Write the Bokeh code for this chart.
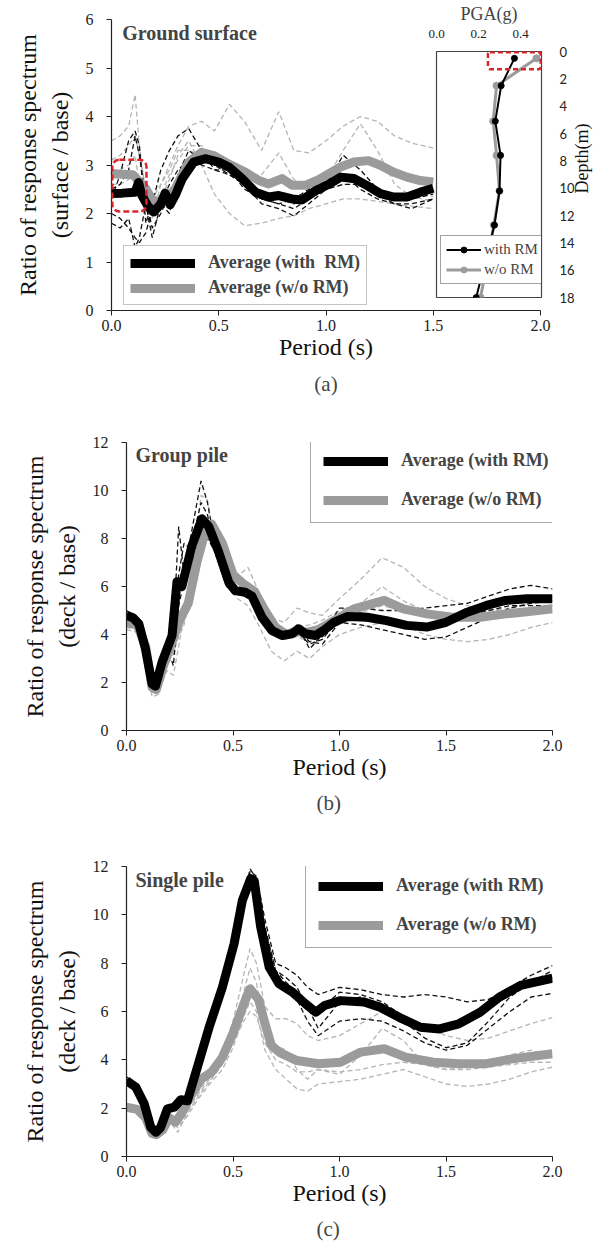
import math
from bokeh.plotting import figure
from bokeh.layouts import column, row
from bokeh.models import (Range1d, Legend, LegendItem, BoxAnnotation, Title,
                          FixedTicker, Label, NumeralTickFormatter)
from bokeh.embed import file_html
from bokeh.resources import INLINE

SERIF = "Liberation Serif"

# ---------------- Panel (a): ground surface ----------------
a_x_rm = [0, 0.05, 0.11, 0.126, 0.142, 0.17, 0.197, 0.23, 0.25, 0.273, 0.3, 0.33, 0.383, 0.437, 0.5,
          0.547, 0.609, 0.671, 0.733, 0.78, 0.842, 0.889, 0.951, 1.02, 1.068, 1.13, 1.19, 1.254,
          1.316, 1.378, 1.44, 1.5]
a_y_rm = [2.41, 2.42, 2.44, 2.64, 2.37, 2.15, 2.03, 2.2, 2.42, 2.18, 2.4, 2.72, 3.06, 3.13, 3.06,
          2.96, 2.72, 2.44, 2.34, 2.37, 2.30, 2.28, 2.47, 2.62, 2.75, 2.72, 2.58, 2.41,
          2.34, 2.34, 2.44, 2.52]
a_x_no = [0, 0.1, 0.16, 0.197, 0.25, 0.297, 0.36, 0.42, 0.48, 0.547, 0.625, 0.687, 0.733, 0.795,
          0.842, 0.904, 0.966, 1.068, 1.13, 1.198, 1.25, 1.316, 1.378, 1.44, 1.5]
a_y_no = [2.82, 2.80, 2.51, 2.23, 2.28, 2.51, 3.06, 3.26, 3.19, 3.02, 2.85, 2.68, 2.61, 2.72,
          2.58, 2.58, 2.70, 2.96, 3.06, 3.09, 3.0, 2.85, 2.75, 2.68, 2.65]
a_x_case = [0, 0.04, 0.08, 0.11, 0.13, 0.16, 0.19, 0.23, 0.27, 0.31, 0.36, 0.42, 0.48, 0.55, 0.62,
            0.7, 0.78, 0.85, 0.92, 1.0, 1.08, 1.16, 1.24, 1.32, 1.4, 1.5]
a_rm_case1 = [2.3, 2.8, 3.5, 3.7, 3.4, 1.8, 2.2, 2.9, 3.3, 3.6, 3.75, 3.3, 2.9, 2.9, 2.5, 2.3, 2.2, 2.1, 2.3, 2.6, 3.2, 2.9, 2.5, 2.3, 2.3, 2.4]
a_rm_case2 = [2.0, 1.9, 1.7, 1.5, 1.4, 1.6, 2.1, 2.2, 2.0, 2.8, 3.3, 3.1, 3.0, 3.0, 2.7, 2.4, 2.3, 2.2, 2.3, 2.5, 2.6, 2.6, 2.4, 2.2, 2.2, 2.3]
a_rm_case3 = [2.5, 2.6, 2.9, 3.6, 3.2, 2.3, 1.7, 2.0, 2.4, 2.5, 3.0, 3.2, 3.0, 2.8, 2.6, 2.3, 2.2, 2.3, 2.5, 2.7, 2.8, 2.5, 2.3, 2.2, 2.1, 2.3]
a_rm_case4 = [1.8, 1.7, 1.9, 1.3, 1.5, 2.2, 1.5, 2.2, 2.6, 2.9, 3.1, 3.0, 2.9, 2.8, 2.6, 2.2, 2.1, 1.95, 2.2, 2.5, 2.7, 2.6, 2.4, 2.3, 2.35, 2.5]
a_no_case1 = [3.5, 3.6, 3.8, 4.45, 3.4, 2.4, 2.3, 2.6, 3.0, 3.4, 3.8, 3.9, 3.7, 4.25, 3.9, 3.3, 4.1, 3.3, 3.25, 3.5, 3.8, 4.0, 3.9, 3.6, 3.45, 3.35]
a_no_case2 = [3.1, 3.2, 3.4, 3.6, 3.2, 2.5, 2.3, 2.4, 2.8, 3.1, 3.4, 3.4, 3.0, 3.1, 2.8, 2.8, 3.25, 2.7, 2.55, 2.7, 3.3, 3.85, 3.3, 2.6, 2.35, 2.25]
a_no_case3 = [2.9, 2.9, 3.0, 3.2, 2.6, 2.1, 2.0, 2.3, 2.7, 3.2, 3.5, 3.0, 2.4, 2.0, 1.75, 1.8, 1.9, 1.95, 2.1, 2.2, 2.3, 2.3, 2.25, 2.2, 2.15, 2.1]
a_no_case4 = [2.6, 2.6, 2.7, 2.8, 2.5, 2.2, 1.9, 2.6, 2.9, 3.3, 3.3, 3.2, 3.0, 2.9, 2.6, 2.4, 2.4, 2.35, 2.4, 2.5, 2.6, 2.6, 2.5, 2.4, 2.4, 2.35]

# Inset: PGA profile
inset_depth = [0.5, 2.5, 5.1, 7.6, 10.2, 12.7, 18.0]
inset_pga_rm = [0.371, 0.308, 0.28, 0.305, 0.30, 0.276, 0.189]
inset_pga_no = [0.476, 0.286, 0.27, 0.286, 0.30, 0.273, 0.21]

# ---------------- Panel (b): group pile ----------------
b_x_rm = [0, 0.03, 0.058, 0.089, 0.12, 0.136, 0.167, 0.214, 0.237, 0.26, 0.307, 0.354, 0.386, 0.433,
          0.48, 0.51, 0.557, 0.589, 0.636, 0.683, 0.73, 0.777, 0.808, 0.84, 0.887, 0.93, 0.974,
          1.036, 1.13, 1.22, 1.315, 1.41, 1.5, 1.6, 1.69, 1.78, 1.88, 2.0]
b_y_rm = [4.8, 4.7, 4.44, 3.4, 1.94, 1.85, 2.85, 3.96, 6.2, 6.0, 7.7, 8.82, 8.5, 7.43, 6.18, 5.83,
          5.76, 5.6, 4.72, 4.17, 3.96, 4.03, 4.24, 4.03, 3.96, 4.2, 4.51, 4.75, 4.72, 4.58, 4.38,
          4.31, 4.51, 4.93, 5.21, 5.42, 5.49, 5.49]
b_x_no = [0, 0.05, 0.09, 0.12, 0.14, 0.17, 0.21, 0.25, 0.29, 0.33, 0.37, 0.4, 0.45, 0.5, 0.55, 0.6,
          0.65, 0.7, 0.75, 0.8, 0.85, 0.9, 0.974, 1.068, 1.21, 1.3, 1.41, 1.53, 1.66, 1.78, 1.88, 2.0]
b_y_no = [4.5, 4.4, 3.5, 1.8, 1.7, 2.6, 3.6, 4.6, 5.3, 7.0, 8.3, 8.6, 7.8, 6.5, 6.1, 5.8, 5.0,
          4.3, 4.0, 4.1, 4.1, 4.2, 4.58, 5.07, 5.42, 5.07, 4.86, 4.72, 4.72, 4.86, 4.95, 5.07]
b_x_case = [0, 0.05, 0.09, 0.12, 0.15, 0.19, 0.22, 0.245, 0.27, 0.31, 0.35, 0.38, 0.42, 0.47, 0.52,
            0.57, 0.62, 0.68, 0.74, 0.8, 0.86, 0.92, 1.0, 1.1, 1.2, 1.3, 1.4, 1.5, 1.6, 1.7, 1.8, 1.9, 2.0]
b_rm_case1 = [5.0, 4.7, 3.5, 2.0, 2.0, 3.3, 4.2, 8.5, 6.5, 8.5, 10.4, 9.5, 7.5, 6.2, 5.8, 5.7, 5.2, 4.3, 3.8, 4.4, 3.4, 4.0, 5.1, 5.1, 5.0, 5.0, 5.1, 5.2, 5.3, 5.6, 5.9, 6.05, 5.9]
b_rm_case2 = [4.8, 4.6, 3.3, 1.7, 2.2, 3.5, 2.7, 5.2, 6.2, 8.0, 9.5, 9.0, 7.3, 6.0, 5.8, 5.6, 5.0, 4.1, 3.9, 4.2, 3.7, 3.6, 4.5, 4.4, 4.2, 4.0, 3.8, 3.9, 4.3, 4.7, 5.1, 5.3, 5.4]
b_rm_case3 = [4.7, 4.5, 3.4, 1.8, 2.0, 3.2, 4.0, 6.5, 7.8, 7.5, 7.8, 8.0, 7.4, 6.1, 5.7, 5.6, 4.9, 4.0, 4.0, 4.3, 4.0, 3.9, 4.8, 4.9, 4.7, 4.5, 4.4, 4.6, 4.9, 5.3, 5.5, 5.6, 5.5]
b_rm_case4 = [4.9, 4.6, 3.4, 1.9, 2.1, 3.4, 4.1, 6.0, 6.8, 7.2, 8.8, 8.7, 7.6, 6.2, 5.9, 5.7, 5.1, 4.2, 3.9, 4.1, 3.6, 3.8, 4.7, 4.6, 4.5, 4.4, 4.3, 4.5, 4.8, 5.0, 5.2, 5.2, 5.2]
b_no_case1 = [4.3, 4.2, 3.3, 1.5, 1.6, 2.5, 2.3, 3.5, 4.8, 6.5, 8.0, 8.5, 7.8, 6.6, 6.4, 6.8, 5.8, 4.7, 4.5, 5.1, 4.9, 4.8, 5.5, 6.3, 7.2, 6.8, 6.0, 5.5, 5.2, 5.0, 5.1, 5.3, 5.6]
b_no_case2 = [4.2, 4.1, 3.2, 1.4, 1.5, 2.8, 3.3, 4.0, 4.6, 6.8, 9.8, 9.6, 7.6, 6.3, 5.9, 5.8, 5.3, 4.5, 4.2, 4.3, 4.4, 4.6, 5.0, 5.3, 6.0, 5.4, 5.0, 4.8, 4.7, 4.8, 4.9, 5.0, 5.2]
b_no_case3 = [4.4, 4.3, 3.4, 1.6, 1.8, 2.7, 3.2, 3.9, 4.4, 6.0, 7.6, 8.2, 7.4, 6.0, 5.5, 5.2, 4.4, 3.3, 2.9, 3.3, 3.0, 3.5, 4.0, 4.3, 4.5, 4.4, 4.0, 3.8, 3.7, 3.8, 4.0, 4.3, 4.5]
b_no_case4 = [4.5, 4.4, 3.5, 1.7, 1.7, 2.9, 3.5, 4.3, 5.0, 6.7, 8.5, 8.7, 7.7, 6.4, 6.0, 5.9, 5.1, 4.2, 3.8, 3.9, 3.7, 4.0, 4.6, 4.9, 5.2, 5.0, 4.8, 4.8, 4.9, 5.0, 5.0, 5.1, 5.0]

# ---------------- Panel (c): single pile ----------------
c_x_rm = [0, 0.044, 0.083, 0.114, 0.138, 0.16, 0.192, 0.224, 0.255, 0.286, 0.333, 0.388, 0.45,
          0.505, 0.544, 0.583, 0.6, 0.63, 0.67, 0.716, 0.779, 0.84, 0.889, 0.93, 1.005, 1.115,
          1.19, 1.28, 1.38, 1.47, 1.56, 1.66, 1.75, 1.85, 2.0]
c_y_rm = [3.14, 2.87, 2.18, 1.21, 1.0, 1.2, 1.97, 2.04, 2.35, 2.31, 3.70, 5.35, 7.0, 8.8, 10.6,
          11.5, 11.4, 9.49, 7.83, 7.15, 6.8, 6.32, 5.97, 6.25, 6.45, 6.39, 6.18, 5.76, 5.35,
          5.28, 5.49, 5.97, 6.59, 7.08, 7.38]
c_x_no = [0, 0.05, 0.09, 0.12, 0.14, 0.17, 0.2, 0.23, 0.26, 0.3, 0.35, 0.4, 0.45, 0.5, 0.55, 0.58,
          0.62, 0.65, 0.68, 0.72, 0.8, 0.9, 1.005, 1.1, 1.21, 1.31, 1.44, 1.56, 1.69, 1.81, 2.0]
c_y_no = [2.04, 1.95, 1.6, 0.95, 0.9, 1.1, 1.6, 1.42, 1.8, 2.5, 3.2, 3.5, 4.1, 5.1, 6.3, 6.94,
          6.5, 5.5, 4.6, 4.3, 3.97, 3.84, 3.9, 4.32, 4.46, 4.11, 3.9, 3.84, 3.84, 4.04, 4.25]
c_x_case = [0, 0.05, 0.09, 0.12, 0.14, 0.17, 0.2, 0.24, 0.28, 0.33, 0.39, 0.45, 0.5, 0.55, 0.58,
            0.61, 0.65, 0.7, 0.75, 0.8, 0.85, 0.9, 1.0, 1.1, 1.2, 1.3, 1.4, 1.5, 1.6, 1.7, 1.8, 1.9, 2.0]
c_rm_case1 = [3.3, 2.9, 2.2, 1.2, 1.0, 1.3, 2.0, 2.1, 2.4, 3.7, 5.4, 7.1, 8.6, 10.5, 11.8, 11.6, 9.8, 8.0, 7.8, 7.5, 7.0, 6.7, 7.0, 6.9, 6.7, 6.6, 6.7, 6.6, 6.4, 6.5, 7.0, 7.5, 7.9]
c_rm_case2 = [3.1, 2.8, 2.1, 1.1, 0.9, 1.2, 1.9, 2.0, 2.3, 3.6, 5.3, 6.9, 8.7, 10.7, 11.9, 11.5, 9.3, 7.5, 7.0, 6.5, 5.6, 5.0, 5.6, 5.7, 5.6, 5.2, 4.7, 4.4, 4.6, 5.3, 6.0, 6.6, 6.75]
c_rm_case3 = [3.2, 2.9, 2.2, 1.2, 1.0, 1.2, 2.0, 2.1, 2.3, 3.7, 5.3, 7.0, 8.8, 10.6, 11.6, 11.4, 9.5, 7.7, 7.4, 7.0, 6.2, 5.3, 6.4, 6.6, 6.3, 5.6, 4.9, 4.5, 4.7, 5.6, 6.6, 7.2, 7.7]
c_rm_case4 = [3.0, 2.8, 2.2, 1.2, 1.0, 1.2, 1.9, 2.1, 2.4, 3.7, 5.4, 7.0, 8.8, 10.6, 11.7, 11.3, 9.4, 7.7, 7.2, 6.8, 6.3, 6.0, 6.8, 6.7, 6.4, 5.8, 5.3, 5.3, 5.6, 6.2, 6.8, 7.2, 7.4]
c_no_case1 = [2.2, 2.0, 1.6, 1.0, 0.9, 1.1, 1.7, 1.5, 1.9, 2.6, 3.3, 4.3, 5.6, 7.5, 8.6, 8.0, 6.2, 5.7, 5.7, 5.5, 5.0, 4.8, 5.0, 5.5, 6.0, 5.8, 5.4, 5.0, 4.8, 4.9, 5.2, 5.5, 5.75]
c_no_case2 = [2.1, 1.9, 1.5, 0.9, 0.8, 1.0, 1.5, 1.0, 1.7, 2.4, 3.1, 3.8, 5.0, 6.8, 7.8, 7.2, 5.2, 4.6, 4.4, 3.6, 3.2, 3.6, 3.4, 4.2, 5.3, 4.8, 3.8, 3.6, 3.7, 3.9, 4.2, 4.4, 4.1]
c_no_case3 = [2.0, 1.9, 1.5, 0.9, 0.85, 1.0, 1.5, 1.2, 1.6, 2.3, 3.0, 3.6, 4.5, 5.8, 6.4, 6.0, 4.4, 3.6, 3.2, 2.8, 2.7, 3.0, 3.1, 3.2, 3.4, 3.6, 3.3, 3.0, 2.9, 3.0, 3.2, 3.5, 3.7]
c_no_case4 = [2.1, 2.0, 1.6, 1.0, 0.9, 1.1, 1.6, 1.3, 1.8, 2.5, 3.2, 3.9, 4.7, 5.6, 6.0, 5.8, 4.7, 4.0, 3.8, 3.5, 3.5, 3.6, 3.5, 3.6, 3.8, 3.9, 3.8, 3.6, 3.6, 3.7, 3.8, 3.9, 3.9]

x_ticks = [0, 0.5, 1.0, 1.5, 2.0]

BLACK = "#000000"
GREY = "#9b9b9b"
GREY_D = "#b5b5b5"
RED = "#d9262b"


def style_axis(ax, tick_size="16px", label_size="24px"):
    ax.axis_line_color = "#222222"
    ax.axis_line_width = 1.2
    ax.major_tick_line_color = "#222222"
    ax.major_tick_out = 5
    ax.major_tick_in = 0
    ax.minor_tick_line_color = None
    ax.major_label_text_font = SERIF
    ax.major_label_text_font_size = tick_size
    ax.major_label_text_color = "#222222"
    ax.axis_label_text_font = SERIF
    ax.axis_label_text_font_size = label_size
    ax.axis_label_text_font_style = "normal"
    ax.axis_label_text_color = "#111111"


def make_panel(ylabel, ymax, ystep, left, right, top, bottom, fw, fh, caption, cap_offset):
    p = figure(frame_width=fw, frame_height=fh, min_border_left=left, min_border_right=right,
               min_border_top=top, min_border_bottom=bottom,
               x_range=Range1d(0, 2.0), y_range=Range1d(0, ymax),
               output_backend="svg", toolbar_location=None)
    p.xgrid.visible = False
    p.ygrid.visible = False
    p.outline_line_color = None
    p.background_fill_color = "white"
    p.border_fill_color = "white"
    xa = p.xaxis[0]
    ya = p.yaxis[0]
    style_axis(xa)
    style_axis(ya)
    xa.ticker = FixedTicker(ticks=x_ticks)
    xa.formatter = NumeralTickFormatter(format="0.0")
    xa.major_label_standoff = 4
    xa.axis_label = "Period (s)"
    xa.axis_label_standoff = 0
    ya.ticker = FixedTicker(ticks=list(range(0, ymax + 1, ystep)))
    ya.major_label_standoff = 13
    ya.axis_label = ylabel
    ya.axis_label_standoff = 10
    if cap_offset is None:
        cap = Title(text=caption, align="center", text_font=SERIF,
                    text_font_size="21px", text_font_style="normal", standoff=14)
    else:
        cap = Title(text=caption, align="left", offset=cap_offset, text_font=SERIF,
                    text_font_size="21px", text_font_style="normal", standoff=12)
    p.add_layout(cap, "below")
    return p


def draw_series(p, xc, rm_cases, no_cases, xr, yr, xn, yn):
    for c in no_cases:
        p.line(xc, c, line_color=GREY_D, line_width=1.3, line_dash="5 3")
    for c in rm_cases:
        p.line(xc, c, line_color="#111111", line_width=1.3, line_dash="5 3")
    r_no = p.line(xn, yn, line_color=GREY, line_width=9, line_join="round")
    r_rm = p.line(xr, yr, line_color=BLACK, line_width=9, line_join="round")
    return r_rm, r_no


def add_legend(p, r_rm, r_no, label_rm, loc, padding, spacing, border):
    leg = Legend(items=[LegendItem(label=label_rm, renderers=[r_rm]),
                        LegendItem(label="Average (w/o RM)", renderers=[r_no])],
                 location=loc, margin=0, padding=padding, spacing=spacing,
                 glyph_width=65, glyph_height=18, label_height=18, label_standoff=13,
                 label_text_font=SERIF, label_text_font_style="bold", label_text_font_size="18px",
                 border_line_color=border, border_line_width=1.2,
                 background_fill_color="white", background_fill_alpha=1.0)
    p.add_layout(leg)


# ---------- panel (a) ----------
p_a = make_panel("Ratio of response spectrum\n(surface / base)", 6, 1,
                 left=111, right=58, top=19, bottom=110, fw=429, fh=291, caption="(a)", cap_offset=None)
ra, na = draw_series(p_a, a_x_case, [a_rm_case1, a_rm_case2, a_rm_case3, a_rm_case4],
                     [a_no_case1, a_no_case2, a_no_case3, a_no_case4],
                     a_x_rm, a_y_rm, a_x_no, a_y_no)
add_legend(p_a, ra, na, "Average (with  RM)", (12, 5), 6, 4, "#8a8a8a")
p_a.add_layout(Label(x=0.05, y=5.73, text="Ground surface", text_font=SERIF, text_font_size="20px",
                     text_font_style="bold", text_baseline="middle", text_align="left"))
p_a.add_layout(BoxAnnotation(left=0.004, right=0.163, bottom=2.04, top=3.11, fill_alpha=0,
                             line_color=RED, line_alpha=1.0, line_width=2.5, line_dash="6 3",
                             border_radius=7))

# ---------- inset (PGA profile) ----------
p_in = figure(frame_width=105, frame_height=246, min_border_left=11, min_border_right=57,
              min_border_top=50, min_border_bottom=9,
              x_range=Range1d(0, 0.5), y_range=Range1d(18, 0),
              x_axis_location="above", y_axis_location="right",
              output_backend="svg", toolbar_location=None)
p_in.xgrid.visible = False
p_in.ygrid.visible = False
p_in.outline_line_color = "#444444"
p_in.outline_line_width = 1.2
p_in.background_fill_color = "white"
p_in.border_fill_color = None
ax_top = p_in.xaxis[0]
ax_top.ticker = FixedTicker(ticks=[0.0, 0.2, 0.4])
ax_top.formatter = NumeralTickFormatter(format="0.0")
ax_top.axis_line_color = None
ax_top.major_tick_line_color = None
ax_top.minor_tick_line_color = None
ax_top.major_label_standoff = 8
ax_top.major_label_text_font = SERIF
ax_top.major_label_text_font_size = "13px"
ax_top.major_label_text_color = "#222222"
ax_top.axis_label = "PGA(g)"
ax_top.axis_label_standoff = 3
ax_top.axis_label_text_font = SERIF
ax_top.axis_label_text_font_size = "18px"
ax_top.axis_label_text_font_style = "normal"
ax_r = p_in.yaxis[0]
ax_r.ticker = FixedTicker(ticks=list(range(0, 19, 2)))
ax_r.axis_line_color = None
ax_r.major_tick_line_color = None
ax_r.minor_tick_line_color = None
ax_r.major_label_standoff = 12
ax_r.major_label_text_font = "Lato"
ax_r.major_label_text_font_size = "13px"
ax_r.major_label_text_color = "#222222"

l_no = p_in.line(inset_pga_no, inset_depth, line_color=GREY, line_width=3)
s_no = p_in.scatter(inset_pga_no, inset_depth, marker="circle", size=7, fill_color=GREY, line_color=GREY)
l_rm = p_in.line(inset_pga_rm, inset_depth, line_color=BLACK, line_width=2)
s_rm = p_in.scatter(inset_pga_rm, inset_depth, marker="circle", size=6, fill_color=BLACK, line_color=BLACK)
leg_in = Legend(items=[LegendItem(label="with RM", renderers=[l_rm, s_rm]),
                       LegendItem(label="w/o RM", renderers=[l_no, s_no])],
                location=(4, 13), margin=0, padding=5, spacing=3,
                glyph_width=35, glyph_height=15, label_height=15, label_standoff=3,
                label_text_font=SERIF, label_text_font_size="15px",
                border_line_color="#444444", border_line_width=1.2,
                background_fill_color="white", background_fill_alpha=1.0)
p_in.add_layout(leg_in)
p_in.add_layout(BoxAnnotation(left=0.245, right=0.496, top=0.06, bottom=1.3, fill_alpha=0,
                              line_color=RED, line_alpha=1.0, line_width=2.5, line_dash="5 3",
                              border_radius=2))

# Depth axis title: a left-side axis label (reads bottom-to-top) on a tiny transparent figure
p_dep = figure(frame_width=4, frame_height=220, min_border_left=40, min_border_right=0,
               min_border_top=48, min_border_bottom=37,
               x_range=Range1d(0, 1), y_range=Range1d(0, 1),
               output_backend="svg", toolbar_location=None)
p_dep.xaxis.visible = False
p_dep.xgrid.visible = False
p_dep.ygrid.visible = False
p_dep.outline_line_color = None
p_dep.background_fill_color = None
p_dep.border_fill_color = None
ax_d = p_dep.yaxis[0]
ax_d.ticker = FixedTicker(ticks=[])
ax_d.axis_line_color = None
ax_d.major_tick_line_color = None
ax_d.minor_tick_line_color = None
ax_d.major_label_standoff = 0
ax_d.major_tick_out = 0
ax_d.major_tick_in = 0
ax_d.axis_label = "Depth(m)"
ax_d.axis_label_standoff = 3
ax_d.axis_label_text_font = SERIF
ax_d.axis_label_text_font_size = "18px"
ax_d.axis_label_text_font_style = "normal"
ax_d.axis_label_text_color = "#111111"

# ---------- panel (b) ----------
p_b = make_panel("Ratio of response spectrum\n(deck / base)", 12, 2,
                 left=126, right=46, top=22, bottom=115, fw=426, fh=288, caption="(b)", cap_offset=190)
rb, nb = draw_series(p_b, b_x_case, [b_rm_case1, b_rm_case2, b_rm_case3, b_rm_case4],
                     [b_no_case1, b_no_case2, b_no_case3, b_no_case4],
                     b_x_rm, b_y_rm, b_x_no, b_y_no)
add_legend(p_b, rb, nb, "Average (with RM)", (184, 207), 12, 18, "#555555")
p_b.add_layout(Label(x=0.042, y=11.46, text="Group pile", text_font=SERIF, text_font_size="20px",
                     text_font_style="bold", text_baseline="middle", text_align="left"))

# ---------- panel (c) ----------
p_c = make_panel("Ratio of response spectrum\n(deck / base)", 12, 2,
                 left=126, right=46, top=21, bottom=98, fw=426, fh=290, caption="(c)", cap_offset=190)
rc, nc = draw_series(p_c, c_x_case, [c_rm_case1, c_rm_case2, c_rm_case3, c_rm_case4],
                     [c_no_case1, c_no_case2, c_no_case3, c_no_case4],
                     c_x_rm, c_y_rm, c_x_no, c_y_no)
add_legend(p_c, rc, nc, "Average (with RM)", (179, 208), 12, 18, "#555555")
p_c.add_layout(Label(x=0.042, y=11.45, text="Single pile", text_font=SERIF, text_font_size="20px",
                     text_font_style="bold", text_baseline="middle", text_align="left"))

top_row = row(column(p_a),
              column(p_in, margin=(0, 0, 0, -173)),
              column(p_dep, margin=(0, 0, 0, -44)))
layout = column(top_row, p_b, p_c)
open("out.html", "w").write(file_html(layout, INLINE))
